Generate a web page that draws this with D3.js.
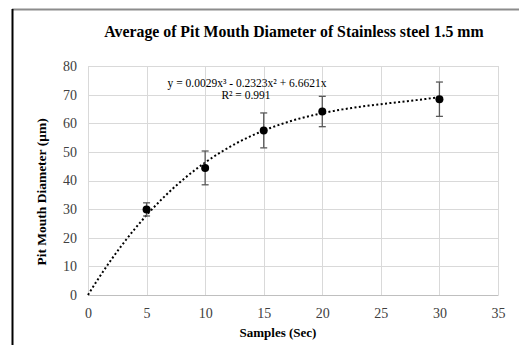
<!DOCTYPE html>
<html>
<meta charset="utf-8">
<title>Pit Mouth Diameter</title>
<script src="https://d3js.org/d3.v7.min.js" charset="utf-8"></script>
<style>
	body { margin: 0; background: #fff; }
	svg { display: block; font-family: "Liberation Serif", "Times New Roman", serif; }
	.grid line { stroke: #d9d9d9; stroke-width: 1; }
	.tick text { fill: #404040; font-size: 14px; }
</style>
<body>
<script>

	var samples = [5, 10, 15, 20, 30];
	var diameters = [29.9, 44.4, 57.5, 64.1, 68.4];
	var errors = [2.3, 5.9, 6.1, 5.3, 6.0];
	var xTicks = [0, 5, 10, 15, 20, 25, 30, 35];
	var yTicks = [0, 10, 20, 30, 40, 50, 60, 70, 80];
	// trendline as printed on the chart: a1*x + a2*x^2 + a3*x^3
	var trendCoef = [6.6621, -0.2323, 0.0029];
	var titleText = "Average of Pit Mouth Diameter of Stainless steel 1.5 mm";
	var equationText = "y = 0.0029x³ - 0.2323x² + 6.6621x";
	var r2Text = "R² = 0.991";

	var width = 519, height = 345;
	var margin = {top: 66, right: 21, bottom: 50, left: 88};

	var x = d3.scaleLinear().domain([0, 35]).range([margin.left, width - margin.right]);
	var y = d3.scaleLinear().domain([0, 80]).range([height - margin.bottom, margin.top]);

	var svg = d3.select("body").append("svg")
		.attr("width", width)
		.attr("height", height);

	/* outer frame (only top and left edges show) */
	svg.append("line")
		.attr("x1", 12).attr("x2", width).attr("y1", 9.5).attr("y2", 9.5)
		.attr("stroke", "#8c8c8c").attr("stroke-width", 2);
	svg.append("line")
		.attr("x1", 12.5).attr("x2", 12.5).attr("y1", 9).attr("y2", height)
		.attr("stroke", "#000").attr("stroke-width", 2);

	svg.append("text")
		.attr("x", 294).attr("y", 37)
		.attr("text-anchor", "middle")
		.style("font-size", "15.8px").style("font-weight", "bold")
		.text(titleText);

	/* grid */
	var grid = svg.append("g").attr("class", "grid");
	grid.selectAll(".h").data(yTicks).enter().append("line")
		.attr("x1", x(0)).attr("x2", x(35))
		.attr("y1", function(d) { return Math.round(y(d)) + 0.5; })
		.attr("y2", function(d) { return Math.round(y(d)) + 0.5; });
	grid.selectAll(".v").data(xTicks).enter().append("line")
		.attr("y1", y(0)).attr("y2", y(80))
		.attr("x1", function(d) { return Math.round(x(d)) + 0.5; })
		.attr("x2", function(d) { return Math.round(x(d)) + 0.5; });

	/* axes, labels only */
	svg.append("g")
		.attr("transform", "translate(0," + y(0) + ")")
		.call(d3.axisBottom(x).tickValues(xTicks).tickSize(0).tickPadding(13))
		.attr("font-family", null).attr("font-size", null)
		.call(function(g) { g.select(".domain").attr("stroke", "#bfbfbf"); });

	svg.append("g")
		.attr("transform", "translate(" + x(0) + ",0)")
		.call(d3.axisLeft(y).tickValues(yTicks).tickSize(0).tickPadding(11))
		.attr("font-family", null).attr("font-size", null)
		.call(function(g) { g.select(".domain").attr("stroke", "#d9d9d9"); });

	svg.append("text")
		.attr("x", 278).attr("y", 337)
		.attr("text-anchor", "middle")
		.style("font-size", "13px").style("font-weight", "bold")
		.text("Samples (Sec)");

	svg.append("text")
		.attr("transform", "translate(46,192)rotate(-90)")
		.attr("text-anchor", "middle")
		.style("font-size", "13.5px").style("font-weight", "bold")
		.text("Pit Mouth Diameter (μm)");

	/* polynomial trendline from the printed equation */
	function trend(v) {
		return trendCoef[0] * v + trendCoef[1] * v * v + trendCoef[2] * v * v * v;
	}
	var curve = d3.range(0, 30.01, 0.25);
	svg.append("path")
		.datum(curve)
		.attr("fill", "none")
		.attr("stroke", "#000")
		.attr("stroke-width", 2)
		.attr("stroke-dasharray", "2,2.4")
		.attr("d", d3.line().x(function(d) { return x(d); }).y(function(d) { return y(trend(d)); }));

	/* error bars */
	var pts = samples.map(function(s, i) { return {x: s, y: diameters[i], e: errors[i]}; });
	var eb = svg.append("g").attr("stroke", "#595959").attr("stroke-width", 1.3);
	eb.selectAll(".stem").data(pts).enter().append("line")
		.attr("x1", function(d) { return x(d.x); }).attr("x2", function(d) { return x(d.x); })
		.attr("y1", function(d) { return y(d.y - d.e); }).attr("y2", function(d) { return y(d.y + d.e); });
	eb.selectAll(".capT").data(pts).enter().append("line")
		.attr("x1", function(d) { return x(d.x) - 3.5; }).attr("x2", function(d) { return x(d.x) + 3.5; })
		.attr("y1", function(d) { return y(d.y + d.e); }).attr("y2", function(d) { return y(d.y + d.e); });
	eb.selectAll(".capB").data(pts).enter().append("line")
		.attr("x1", function(d) { return x(d.x) - 3.5; }).attr("x2", function(d) { return x(d.x) + 3.5; })
		.attr("y1", function(d) { return y(d.y - d.e); }).attr("y2", function(d) { return y(d.y - d.e); });

	svg.selectAll(".dot").data(pts).enter().append("circle")
		.attr("cx", function(d) { return x(d.x); })
		.attr("cy", function(d) { return y(d.y); })
		.attr("r", 4)
		.attr("fill", "#000");

	/* equation label */
	svg.append("text")
		.attr("x", 247).attr("y", 86.5)
		.attr("text-anchor", "middle")
		.style("font-size", "11.5px")
		.text(equationText);
	svg.append("text")
		.attr("x", 246).attr("y", 99)
		.attr("text-anchor", "middle")
		.style("font-size", "11.5px")
		.text(r2Text);

</script>
</body>
</html>
